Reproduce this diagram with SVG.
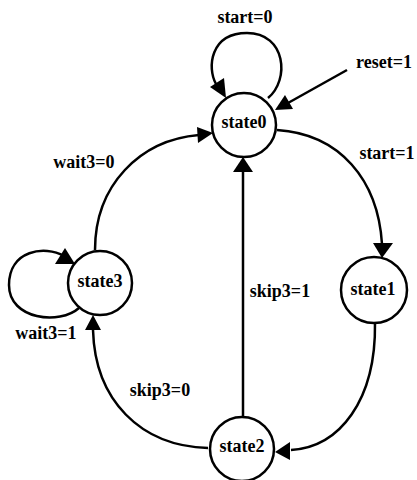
<svg xmlns="http://www.w3.org/2000/svg" width="417" height="480" viewBox="0 0 417 480">
<style>
.n{fill:#fff;stroke:#000;stroke-width:2.5}
.e{fill:none;stroke:#000;stroke-width:2.5}
.h{fill:#000;stroke:none}
text{font-family:"Liberation Serif","Times New Roman",serif;font-weight:bold;font-size:18px;text-anchor:middle;fill:#000}
</style>
<rect width="417" height="480" fill="#fff"/>
<g id="connectors">
<path class="e" d="M268,98 C290,80 286,33 247,33 C210,33 207,68 216,84"/>
<polygon class="h" points="226,98 210,87 224,78"/>
<line class="e" x1="347" y1="70" x2="288" y2="103"/>
<polygon class="h" points="275,110 293,109 285,95"/>
<path class="e" d="M277,130 C340,134 378,180 382,244"/>
<polygon class="h" points="382,258 373,243 393,243"/>
<path class="e" d="M375,323 C376,400 340,447 291,450"/>
<polygon class="h" points="275,452 290,442 290,460"/>
<line class="e" x1="243" y1="417" x2="243" y2="171"/>
<polygon class="h" points="243,157 233,172 253,172"/>
<path class="e" d="M208,448 C140,446 95,400 93,330"/>
<polygon class="h" points="93,315 85,330 101,330"/>
<path class="e" d="M95,250 C95,185 140,140 199,135"/>
<polygon class="h" points="213,133 197,127 198,143"/>
<path class="e" d="M79,308 C60,325 9,320 9,285 C9,250 45,245 64,256"/>
<polygon class="h" points="75,264 65,248 55,264"/>
</g>
<g id="state0"><circle class="n" cx="244" cy="125" r="32"/><text x="244" y="128">state0</text></g>
<g id="state1"><circle class="n" cx="374" cy="290" r="33"/><text x="373" y="295">state1</text></g>
<g id="state2"><circle class="n" cx="242" cy="449" r="32"/><text x="242" y="452">state2</text></g>
<g id="state3"><circle class="n" cx="100" cy="283" r="32"/><text x="100" y="287">state3</text></g>
<g id="labels">
<text x="245" y="23">start=0</text>
<text x="384" y="68">reset=1</text>
<text x="387" y="159">start=1</text>
<text x="84" y="168">wait3=0</text>
<text x="46" y="339">wait3=1</text>
<text x="280" y="297">skip3=1</text>
<text x="160" y="396">skip3=0</text>
</g>
</svg>
